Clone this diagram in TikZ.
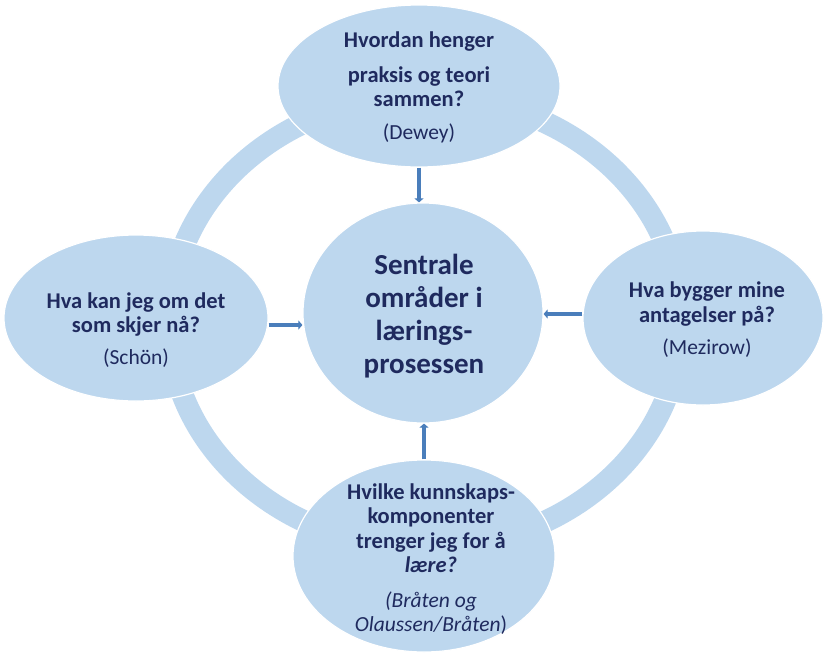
\documentclass[tikz,border=0pt]{standalone}
\usepackage{fontspec}
\setmainfont{Carlito}
\usetikzlibrary{shapes.geometric,arrows.meta}

\definecolor{bubbleblue}{HTML}{BDD7EE}
\definecolor{arrowblue}{HTML}{4A7EBB}
\definecolor{textnavy}{HTML}{1F2A5E}

\newcommand{\srcref}[1]{{\fontsize{21.5}{24}\selectfont\mdseries #1}}

\tikzset{
	bubble/.style={ellipse, fill=bubbleblue, draw=white, line width=1.2pt, inner sep=0pt},
	qtext/.style={text=textnavy, align=center, inner sep=0pt, font=\fontsize{22.5}{24.5}\selectfont\bfseries},
	ctext/.style={text=textnavy, align=center, inner sep=0pt, font=\fontsize{29}{33}\selectfont\bfseries},
	arr/.style={draw=arrowblue, line width=4pt, -{Triangle[length=4pt,width=9pt]}},
}

\begin{document}
\begin{tikzpicture}[x=1pt,y=-1pt]
\useasboundingbox (0,0) rectangle (825,654);

% the ring behind the bubbles
\draw [bubbleblue, line width=22pt] (425,322) ellipse [x radius=256pt, y radius=226pt];

\path (419,86) node[bubble, minimum width=282pt, minimum height=162pt] (top) {};
\path (136,318) node[bubble, minimum width=264pt, minimum height=166pt] (left) {};
\path (703,318) node[bubble, minimum width=240pt, minimum height=174pt] (right) {};
\path (424,556) node[bubble, minimum width=262pt, minimum height=192pt] (bottom) {};
\path (423,313) node[bubble, minimum width=240pt, minimum height=220pt] (mid) {};

\path (419,87) node[qtext] (toptxt) {Hvordan henger\\[10.5pt] praksis og teori\\ sammen?\\[8pt] \srcref{(Dewey)}};
\path (136,330) node[qtext] (lefttxt) {Hva kan jeg om det\\ som skjer nå?\\[7pt] \srcref{(Schön)}};
\path (707,320) node[qtext] (righttxt) {Hva bygger mine\\ antagelser på?\\[8pt] \srcref{(Mezirow)}};
\path (431,559) node[qtext] (bottomtxt) {Hvilke kunnskaps-\\ komponenter\\ trenger jeg for å\\ \textit{lære?}\\[10pt] \srcref{\textit{(Bråten og}}\\ \srcref{\textit{Olaussen/Bråten})}};
\path (424,316) node[ctext] (midtxt) {Sentrale\\ områder i\\ lærings-\\ prosessen};

% arrows into the centre
\draw [arr] (top.south) -- (top.south |- mid.north);
\draw [arr] (bottom.north) -- (bottom.north |- mid.south);
\draw [arr] ([yshift=-7pt]left.east) -- ([yshift=-7pt]left.east -| mid.west);
\draw [arr] ([yshift=4pt]right.west) -- ([yshift=4pt]right.west -| mid.east);

\end{tikzpicture}
\end{document}
